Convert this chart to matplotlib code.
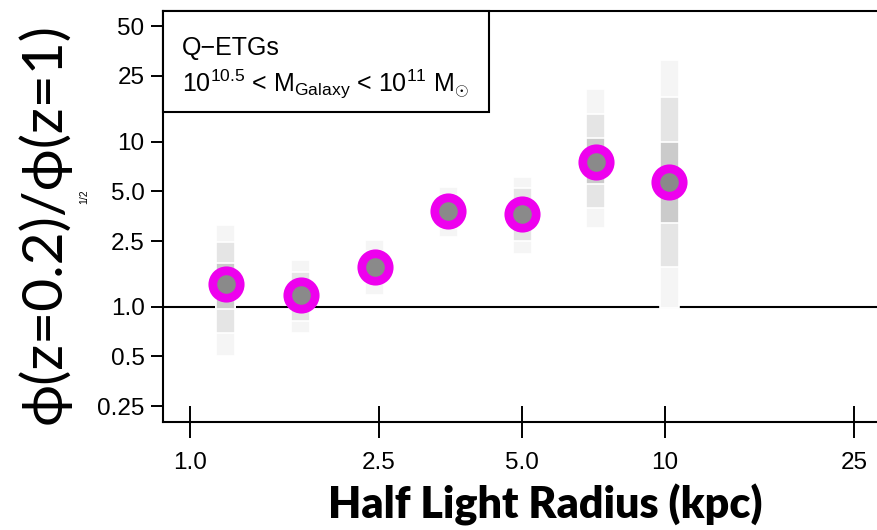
import numpy as np
import matplotlib
matplotlib.use("Agg")
import matplotlib.pyplot as plt
from matplotlib.patches import Rectangle
from matplotlib.ticker import FixedLocator, FixedFormatter, NullLocator

plt.rcParams["font.family"] = ["Liberation Sans", "DejaVu Sans"]
plt.rcParams["mathtext.fontset"] = "custom"
plt.rcParams["mathtext.rm"] = "Liberation Sans"
plt.rcParams["mathtext.it"] = "Liberation Sans"

# half light radius bins (kpc) and ratio phi(z=0.2)/phi(z=1)
radius = [1.19, 1.71, 2.45, 3.50, 5.00, 7.15, 10.2]
ratio = [1.37, 1.17, 1.75, 3.78, 3.63, 7.55, 5.66]

# shaded intervals (inner, middle, outer)
lo1 = [0.97, 0.98, 1.55, 3.35, 2.95, 5.52, 3.22]
hi1 = [1.85, 1.40, 1.97, 4.25, 4.50, 10.5, 10.0]
lo2 = [0.69, 0.82, 1.40, 3.00, 2.50, 3.95, 1.75]
hi2 = [2.47, 1.63, 2.18, 4.75, 5.23, 14.7, 18.6]
lo3 = [0.50, 0.69, 1.18, 2.66, 2.08, 3.01, 0.978]
hi3 = [3.13, 1.92, 2.54, 5.34, 6.14, 20.9, 31.1]

xticks = [1.0, 2.5, 5.0, 10, 25]
xtick_labels = ["1.0", "2.5", "5.0", "10", "25"]
yticks = [0.25, 0.5, 1.0, 2.5, 5.0, 10, 25, 50]
ytick_labels = ["0.25", "0.5", "1.0", "2.5", "5.0", "10", "25", "50"]

fig = plt.figure(figsize=(8.77, 5.30), dpi=100)
ax = fig.add_axes([0.18586, 0.20434, 0.81414, 0.7749])
ax.set_xscale("log")
ax.set_yscale("log")
ax.set_xlim(0.877, 27.95)
ax.set_ylim(0.201, 61.9)

ax.axhline(1.0, color="black", lw=1.5, zorder=1)

# bands, drawn outer to inner so the white edges separate the shades
x = np.array(radius)
f = 10 ** 0.02
bands = [(lo3, hi3, "#f5f5f5"), (lo2, hi2, "#e5e5e5"), (lo1, hi1, "#cbcbcb")]
for lo, hi, col in bands:
    lo = np.array(lo)
    hi = np.array(hi)
    ax.bar(x / f, hi - lo, width=x * f - x / f, bottom=lo, align="edge",
           color=col, edgecolor="white", linewidth=1.2, zorder=2)

ax.plot(radius, ratio, "o", ms=19.7, mfc="#8a8a8a", mec="#ee00ee",
        mew=6.3, zorder=3, linestyle="none")

ax.xaxis.set_major_locator(FixedLocator(xticks))
ax.xaxis.set_major_formatter(FixedFormatter(xtick_labels))
ax.yaxis.set_major_locator(FixedLocator(yticks))
ax.yaxis.set_major_formatter(FixedFormatter(ytick_labels))
ax.xaxis.set_minor_locator(NullLocator())
ax.yaxis.set_minor_locator(NullLocator())

ax.tick_params(axis="x", direction="inout", length=23, width=1.4,
               labelsize=17.5, pad=10)
ax.tick_params(axis="y", direction="out", length=8.3, width=1.4,
               labelsize=17.5, pad=5)

for side in ["left", "bottom", "top"]:
    ax.spines[side].set_linewidth(1.5)
ax.spines["right"].set_visible(False)

# label box in the top left corner
ax.add_patch(Rectangle((0, 0.754), 0.4566, 0.246, transform=ax.transAxes,
                       facecolor="white", edgecolor="black", lw=1.5,
                       zorder=5, clip_on=False))
ax.text(0.0266, 0.893, "Q\u2212ETGs", transform=ax.transAxes,
        fontsize=18, va="baseline", zorder=6)
ax.text(0.0266, 0.8035,
        r"$10^{10.5}$ < M$_{\mathregular{Galaxy}}$ < $10^{11}$ M$_{\odot}$",
        transform=ax.transAxes, fontsize=18, va="baseline", zorder=6)

fig.text(0.622, 0.022, "Half Light Radius (kpc)", ha="center",
         va="baseline", fontsize=31, fontweight="heavy",
         family=["Lato", "DejaVu Sans"])
fig.text(43.5 / 877, 1 - 224 / 530, "\u03d5(z=0.2)/\u03d5(z=1)",
         rotation=90, ha="center", va="center", fontsize=41,
         fontweight="normal", family=["Lato", "DejaVu Sans"])
fig.text(84 / 877, 1 - 197 / 530, "1/2", rotation=90, ha="center",
         va="center", fontsize=7.5)

fig.savefig("out.png", dpi=100)
